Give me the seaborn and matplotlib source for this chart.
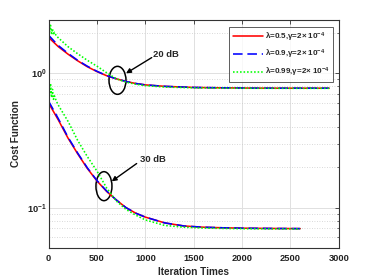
import numpy as np
import pandas as pd
import seaborn as sns
import matplotlib
matplotlib.use("Agg")
import matplotlib.pyplot as plt
from matplotlib.patches import Ellipse
from matplotlib import transforms

# ---------------- data ----------------
labels = [r"$\lambda$=0.5,$\gamma$=2$\times$ 10$^{-4}$",
          r"$\lambda$=0.9,$\gamma$=2$\times$ 10$^{-4}$",
          r"$\lambda$=0.99,$\gamma$=2$\times$ 10$^{-4}$"]

# 20 dB curves
it20 = [0, 100, 200, 300, 400, 500, 600, 700, 800, 900, 1000, 1200, 1500, 1800, 2100, 2400, 2900]
red20 = [1.85, 1.58, 1.39, 1.24, 1.12, 1.03, 0.96, 0.91, 0.87, 0.84, 0.82, 0.80, 0.785, 0.78, 0.776, 0.775, 0.775]
blue20 = [1.92, 1.61, 1.41, 1.25, 1.13, 1.035, 0.962, 0.91, 0.87, 0.84, 0.82, 0.80, 0.785, 0.78, 0.776, 0.775, 0.775]
it20g = [0, 10, 20, 30, 40, 50, 60, 80, 100, 200, 300, 400, 500, 600, 700, 800, 900, 1000, 1200, 1500, 1800, 2100, 2400, 2900]
green20 = [2.35, 2.05, 2.28, 1.98, 2.15, 1.93, 2.02, 1.90, 1.84, 1.58, 1.40, 1.25, 1.13, 1.01, 0.91, 0.86, 0.83, 0.81, 0.79, 0.78, 0.776, 0.774, 0.773, 0.773]

# 30 dB curves
it30 = [0, 100, 200, 300, 400, 500, 600, 700, 800, 900, 1000, 1200, 1400, 1600, 1800, 2000, 2300, 2600]
red30 = [0.60, 0.45, 0.33, 0.252, 0.196, 0.158, 0.132, 0.114, 0.100, 0.091, 0.085, 0.077, 0.073, 0.0715, 0.0708, 0.0703, 0.070, 0.0698]
blue30 = [0.62, 0.46, 0.335, 0.255, 0.198, 0.159, 0.133, 0.114, 0.100, 0.091, 0.085, 0.077, 0.073, 0.0715, 0.0708, 0.0703, 0.070, 0.0698]
it30g = [0, 10, 20, 30, 40, 50, 60, 80, 100, 200, 300, 400, 500, 600, 700, 800, 900, 1000, 1200, 1400, 1600, 1800, 2000, 2300, 2600]
green30 = [0.88, 0.70, 0.84, 0.66, 0.76, 0.64, 0.68, 0.62, 0.58, 0.44, 0.317, 0.24, 0.187, 0.140, 0.112, 0.097, 0.088, 0.081, 0.0737, 0.0715, 0.0705, 0.070, 0.0697, 0.0695, 0.0694]

# ---------------- style ----------------
sns.set_style("white")
plt.rcParams["font.family"] = ["Liberation Sans", "DejaVu Sans"]
plt.rcParams["font.weight"] = "bold"
plt.rcParams["mathtext.fontset"] = "custom"
plt.rcParams["mathtext.rm"] = "Liberation Sans:bold"
plt.rcParams["mathtext.it"] = "Liberation Sans:bold"
plt.rcParams["mathtext.bf"] = "Liberation Sans:bold"
plt.rcParams["mathtext.default"] = "rm"

fig = plt.figure(figsize=(3.74, 2.8), dpi=100)
ax = fig.add_axes([0.130, 0.114, 0.776, 0.815])

red, blue, green = "#ff0000", "#0000ff", "#00ff00"
lw = 1.15

def draw(x, y, color, ls, label=None):
    df = pd.DataFrame({"x": x, "y": y})
    sns.lineplot(data=df, x="x", y="y", ax=ax, color=color, lw=lw,
                 linestyle=ls, label=label, legend=False)

draw(it20, red20, red, "-", labels[0])
draw(it20, blue20, blue, (0, (6, 3)), labels[1])
draw(it20g, green20, green, (0, (1, 1.2)), labels[2])
draw(it30, red30, red, "-")
draw(it30, blue30, blue, (0, (6, 3)))
draw(it30g, green30, green, (0, (1, 1.2)))

ax.set_yscale("log")
ax.set_xlim(0, 3000)
ax.set_ylim(0.05, 2.5)
ax.set_xticks([0, 500, 1000, 1500, 2000, 2500, 3000])

# grid
ax.grid(True, which="major", color="#e0e0e0", lw=0.7, ls="-")
ax.grid(True, which="minor", axis="y", color="#cccccc", lw=0.6, ls=(0, (1, 2)))
ax.set_axisbelow(True)

for s in ax.spines.values():
    s.set_color("#333333")
    s.set_linewidth(0.8)
ax.tick_params(which="both", direction="in", top=True, right=True,
               colors="#333333", labelcolor="#222222", labelsize=6.7)
ax.tick_params(which="major", length=3, width=0.6)
ax.tick_params(axis="x", which="major", pad=4.5)
ax.tick_params(axis="y", which="major", pad=1.5)
ax.tick_params(which="minor", length=1.8, width=0.5)
ax.tick_params(axis="x", which="minor", bottom=False, top=False)

ax.set_xlabel("Iteration Times", fontsize=7.2, fontweight="bold", labelpad=2.5)
ax.set_ylabel("Cost Function", fontsize=7.2, fontweight="bold", labelpad=4)

# legend
leg = ax.legend(loc="upper right", fontsize=5.8, frameon=True, fancybox=False,
                handlelength=3.8, handletextpad=0.2, borderpad=0.4,
                labelspacing=0.55, borderaxespad=0.2,
                bbox_to_anchor=(0.985, 0.975))
leg.get_frame().set_edgecolor("#333333")
leg.get_frame().set_linewidth(0.7)

# ellipses + annotations
def ellipse(xd, yd, w_in, h_in):
    trans = fig.dpi_scale_trans + transforms.ScaledTranslation(xd, yd, ax.transData)
    e = Ellipse((0, 0), w_in, h_in, transform=trans, fill=False, ec="black", lw=1.1)
    ax.add_patch(e)

ellipse(712, 0.887, 0.17, 0.28)
ellipse(572, 0.1445, 0.16, 0.29)

ap = dict(arrowstyle="-|>", color="black", lw=1.0, mutation_scale=7, shrinkA=0, shrinkB=0)
ax.annotate("", xy=(800, 1.0), xytext=(1066, 1.31), arrowprops=ap)
ax.annotate("", xy=(652, 0.157), xytext=(910, 0.213), arrowprops=ap)
ax.text(1080, 1.39, "20 dB", fontsize=6.8, fontweight="bold", ha="left", va="center")
ax.text(940, 0.228, "30 dB", fontsize=6.8, fontweight="bold", ha="left", va="center")

fig.savefig("out.png", dpi=100)
